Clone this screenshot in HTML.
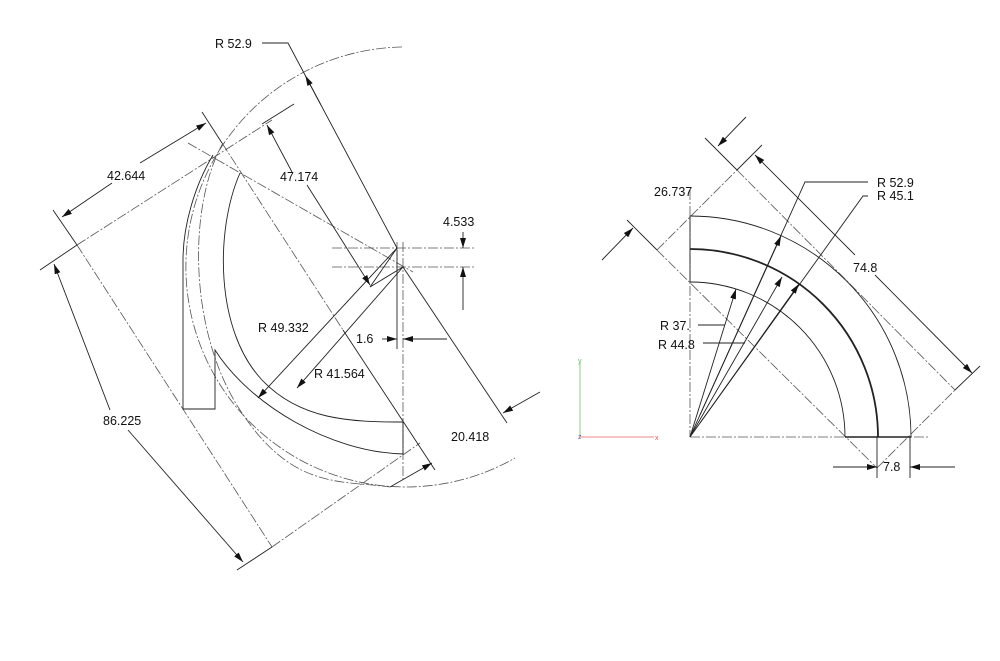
<!DOCTYPE html>
<html><head><meta charset="utf-8"><style>
html,body{margin:0;padding:0;background:#fff;}
svg{display:block;}
text{font-family:"Liberation Sans",sans-serif;font-size:12.5px;fill:#111;}
</style></head><body>
<svg width="1000" height="661" viewBox="0 0 1000 661" xmlns="http://www.w3.org/2000/svg">
<defs>
<marker id="a" viewBox="0 0 10 6" refX="10" refY="3" markerWidth="10" markerHeight="6" markerUnits="userSpaceOnUse" orient="auto"><path d="M0,0 L10,3 L0,6 z" fill="#111"/></marker>
</defs>
<g fill="none" stroke="#222" stroke-width="0.9">
<g stroke="#555" stroke-dasharray="10 2 2 2" stroke-width="0.8">
<path d="M402,47 A220,220 0 1 0 515,458"/>
<path d="M223,143 C188,205 188,330 240,410 S340,480 390,487"/>
<line x1="77" y1="245" x2="272" y2="120"/>
<line x1="77" y1="245" x2="272" y2="547"/>
<line x1="272" y1="547" x2="420" y2="443"/>
<line x1="188" y1="143" x2="413" y2="272"/>
<line x1="222" y1="143" x2="343" y2="330"/>
<line x1="332" y1="248" x2="475" y2="248"/>
<line x1="332" y1="267" x2="475" y2="267"/>
<line x1="397" y1="242" x2="397" y2="260"/>
<line x1="403" y1="242" x2="403" y2="480"/>
</g>
<path d="M213,155 C195,185 183,225 183,260 L183,409 L215,409 L215,350 C250,405 330,452 403,454"/>
<path d="M240,173 C215,230 215,330 262,380 C300,420 350,422 403,422"/>
<line x1="403" y1="422" x2="403" y2="454"/>
<line x1="343" y1="330" x2="435" y2="470"/>
<line x1="403" y1="267" x2="507" y2="423"/>
<polyline points="262,43 288,43 397,248"/>
<line x1="397" y1="250" x2="397" y2="349"/>
<polyline points="397,248 370,287 403,267"/>
<line x1="397" y1="248" x2="258" y2="398" marker-end="url(#a)"/>
<line x1="403" y1="267" x2="297" y2="388" marker-end="url(#a)"/>
<line x1="320.7" y1="104.5" x2="305.4" y2="75.8" marker-end="url(#a)"/>
<line x1="262" y1="124" x2="294" y2="104"/>
<line x1="292" y1="172" x2="267" y2="125" marker-end="url(#a)"/>
<line x1="307" y1="185" x2="370" y2="285" marker-end="url(#a)"/>
<line x1="202" y1="112" x2="222" y2="143"/>
<line x1="53" y1="210" x2="77" y2="245"/>
<line x1="112" y1="183" x2="62" y2="217" marker-end="url(#a)"/>
<line x1="140" y1="163" x2="206" y2="123" marker-end="url(#a)"/>
<line x1="40" y1="270" x2="77" y2="245"/>
<line x1="237" y1="570" x2="272" y2="547"/>
<line x1="110" y1="410" x2="54" y2="264" marker-end="url(#a)"/>
<line x1="128" y1="430" x2="243" y2="562" marker-end="url(#a)"/>
<line x1="463" y1="232" x2="463" y2="248" marker-end="url(#a)"/>
<line x1="463" y1="310" x2="463" y2="267" marker-end="url(#a)"/>
<line x1="382" y1="339" x2="397" y2="339" marker-end="url(#a)"/>
<line x1="447" y1="339" x2="403" y2="339" marker-end="url(#a)"/>
<line x1="390" y1="487" x2="432" y2="463" marker-end="url(#a)"/>
<line x1="540" y1="392" x2="503" y2="413" marker-end="url(#a)"/>
</g>
<text x="215" y="48">R 52.9</text>
<text x="280" y="181">47.174</text>
<text x="107" y="180">42.644</text>
<text x="103" y="425">86.225</text>
<text x="443" y="226">4.533</text>
<text x="356" y="343">1.6</text>
<text x="258" y="332">R 49.332</text>
<text x="314" y="378">R 41.564</text>
<text x="451" y="441">20.418</text>

<line x1="580" y1="437" x2="654" y2="437" stroke="#e88" stroke-width="1"/>
<line x1="580" y1="437" x2="580" y2="362" stroke="#8c8" stroke-width="1"/>
<text x="655" y="440" style="font-size:7px;fill:#e55">x</text>
<text x="578" y="363" style="font-size:7px;fill:#6b6">y</text>
<text x="578" y="439" style="font-size:7px;fill:#55c">z</text>

<g fill="none" stroke="#222" stroke-width="0.9">
<g stroke="#555" stroke-dasharray="10 2 2 2" stroke-width="0.8">
<line x1="690" y1="190" x2="690" y2="437"/>
<line x1="690" y1="437" x2="930" y2="437"/>
<line x1="657" y1="250" x2="877" y2="468"/>
<line x1="737" y1="170" x2="955" y2="390"/>
<line x1="657" y1="250" x2="737" y2="170"/>
<line x1="877" y1="468" x2="955" y2="390"/>
</g>
<path d="M690,282 A155,155 0 0 1 845,437"/>
<path d="M690,249 A188,188 0 0 1 878,437" stroke-width="1.8"/>
<path d="M690,216 A221,221 0 0 1 911,437"/>
<line x1="690" y1="216" x2="690" y2="282"/>
<line x1="845" y1="437" x2="911" y2="437" stroke-width="1.6"/>
<polyline points="698,325 725,325"/>
<line x1="690" y1="437" x2="736" y2="289" marker-end="url(#a)"/>
<polyline points="703,343 745,343"/>
<line x1="690" y1="437" x2="782" y2="277" marker-end="url(#a)"/>
<polyline points="690,437 805,182 868,182"/>
<line x1="700" y1="415" x2="781" y2="236" marker-end="url(#a)"/>
<polyline points="690,437 863,196 868,196"/>
<line x1="700" y1="423" x2="799" y2="284" marker-end="url(#a)"/>
<line x1="657" y1="250" x2="627" y2="220"/>
<line x1="737" y1="170" x2="705" y2="138"/>
<line x1="602" y1="260" x2="633" y2="228" marker-end="url(#a)"/>
<line x1="746" y1="117" x2="718" y2="146" marker-end="url(#a)"/>
<line x1="737" y1="170" x2="762" y2="145"/>
<line x1="955" y1="390" x2="980" y2="366"/>
<line x1="855" y1="255" x2="755" y2="155" marker-end="url(#a)"/>
<line x1="875" y1="275" x2="972" y2="373" marker-end="url(#a)"/>
<line x1="877" y1="437" x2="877" y2="478"/>
<line x1="910" y1="437" x2="910" y2="478"/>
<line x1="833" y1="467" x2="877" y2="467" marker-end="url(#a)"/>
<line x1="955" y1="467" x2="910" y2="467" marker-end="url(#a)"/>
</g>
<text x="654" y="196">26.737</text>
<text x="877" y="187">R 52.9</text>
<text x="877" y="200">R 45.1</text>
<text x="853" y="272">74.8</text>
<text x="660" y="330">R 37.</text>
<text x="658" y="349">R 44.8</text>
<text x="883" y="471">7.8</text>
</svg>
</body></html>
